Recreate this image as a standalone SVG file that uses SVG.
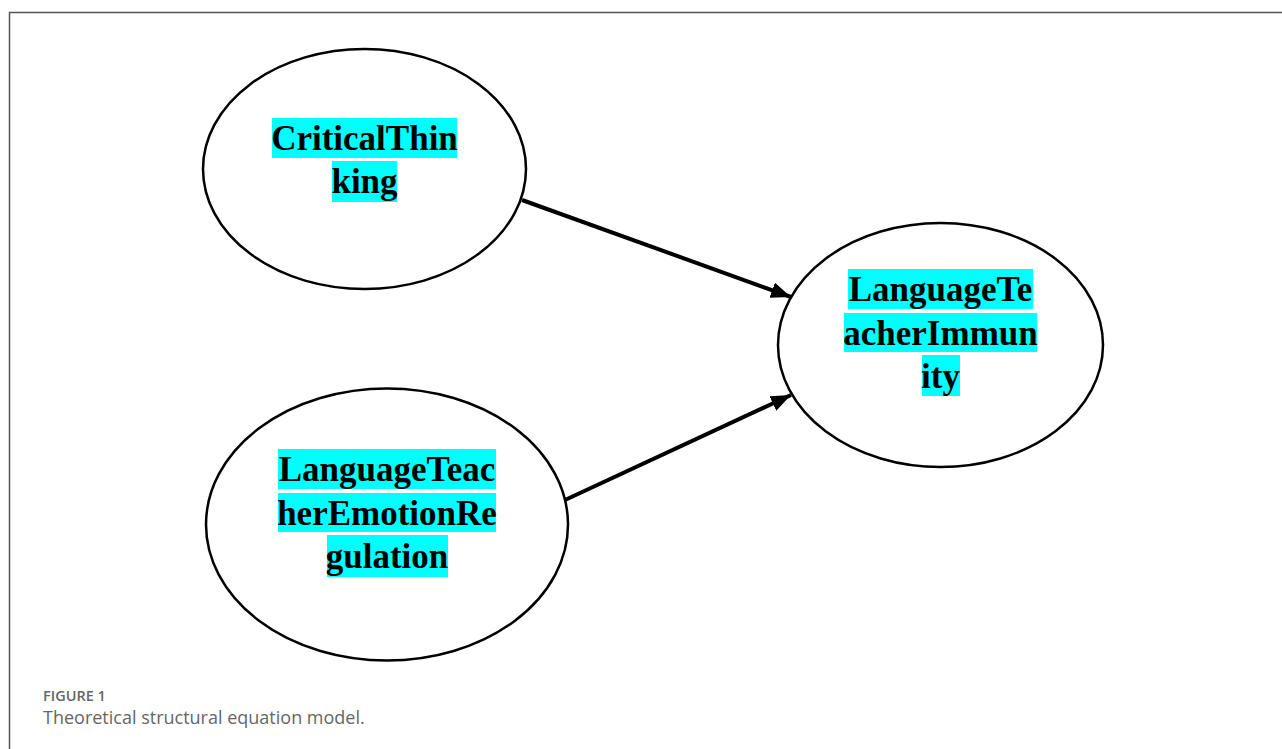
<svg xmlns="http://www.w3.org/2000/svg" width="1282" height="749" viewBox="0 0 1282 749">
<style>
.node{fill:#fff;stroke:#000;stroke-width:2.5}
.hl{fill:#00ffff}
.lbl{font-family:"Liberation Serif","Times New Roman",serif;font-weight:bold;font-size:35px;fill:#000;text-anchor:middle}
.conn{stroke:#000;stroke-width:4;fill:none}
.frame{stroke:#555;stroke-width:1.5;fill:none}
.cap1{font-family:"Open Sans",sans-serif;font-weight:600;font-size:14.5px;fill:#666}
.cap2{font-family:"Open Sans",sans-serif;font-size:18px;fill:#666}
</style>
<defs>
<marker id="arrow" markerUnits="userSpaceOnUse" markerWidth="22" markerHeight="18" refX="20" refY="8" orient="auto">
<path d="M0,0 L20,8 L0,16 Z" fill="#000"/>
</marker>
</defs>
<rect width="1282" height="749" fill="#fff"/>
<path class="frame" d="M9.5,749 V12.5 H1282"/>
<g id="connectors">
<line class="conn" x1="522" y1="200" x2="791" y2="297" marker-end="url(#arrow)"/>
<line class="conn" x1="565" y1="500" x2="791" y2="395" marker-end="url(#arrow)"/>
</g>
<g id="node-critical-thinking">
<ellipse class="node" cx="364.5" cy="169" rx="161.5" ry="120"/>
<rect class="hl" x="272" y="118" width="185" height="40"/>
<rect class="hl" x="332" y="161" width="65" height="41"/>
<text class="lbl" x="364.5" y="150">CriticalThin</text>
<text class="lbl" x="364.5" y="193">king</text>
</g>
<g id="node-language-teacher-immunity">
<ellipse class="node" cx="940.5" cy="345" rx="162.5" ry="122"/>
<rect class="hl" x="848" y="269" width="185" height="40"/>
<rect class="hl" x="844" y="313" width="193" height="39"/>
<rect class="hl" x="922" y="355" width="38" height="41"/>
<text class="lbl" x="940.5" y="301">LanguageTe</text>
<text class="lbl" x="940.5" y="345">acherImmun</text>
<text class="lbl" x="940.5" y="388">ity</text>
</g>
<g id="node-language-teacher-emotion-regulation">
<ellipse class="node" cx="387" cy="524.5" rx="181" ry="136"/>
<rect class="hl" x="278" y="449" width="218" height="40"/>
<rect class="hl" x="278" y="493" width="218" height="39"/>
<rect class="hl" x="327" y="535" width="121" height="42"/>
<text class="lbl" x="387" y="481">LanguageTeac</text>
<text class="lbl" x="387" y="525">herEmotionRe</text>
<text class="lbl" x="387" y="568">gulation</text>
</g>
<g id="caption">
<text class="cap1" x="43" y="701">FIGURE 1</text>
<text class="cap2" x="43" y="724">Theoretical structural equation model.</text>
</g>
</svg>
